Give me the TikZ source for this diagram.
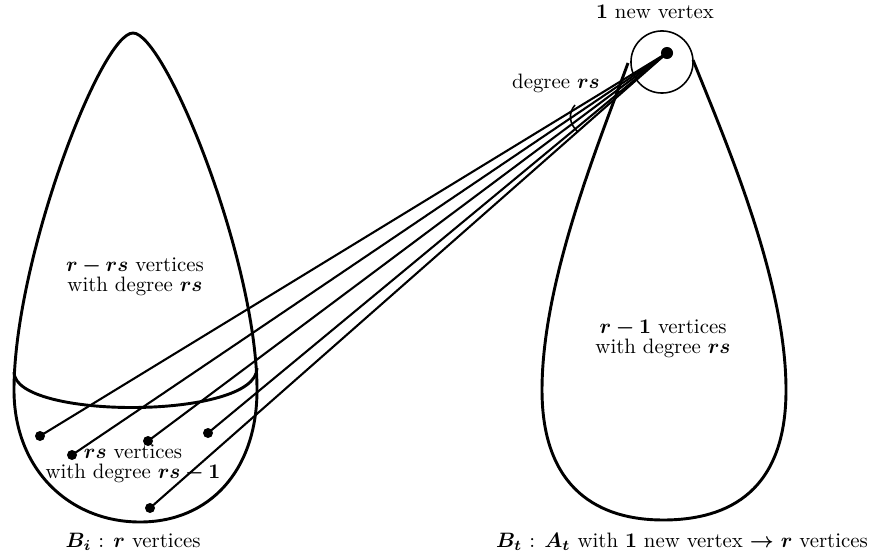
\documentclass[tikz,border=0pt]{standalone}
\usepackage{amsmath,bm}
\begin{document}
\begin{tikzpicture}[x=0.48pt,y=-0.48pt,
  blob/.style={line width=1.4pt},
  edge/.style={line width=1pt},
  thinline/.style={line width=0.75pt},
  dot/.style={circle,fill=black,inner sep=0pt,minimum size=4.8pt},
  bigdot/.style={circle,fill=black,inner sep=0pt,minimum size=5.8pt},
  lbl/.style={align=center,font=\fontsize{10}{9.5}\selectfont,inner sep=0pt}]
\useasboundingbox (0,0) rectangle (871,560);
% left drop B_i
\draw[blob] (133,33) .. controls (165,33) and (257,260) .. (257,390)
  .. controls (257,470) and (210,522) .. (140,522)
  .. controls (70,522) and (14,470) .. (14,390)
  .. controls (14,260) and (101,33) .. (133,33) -- cycle;
\draw[blob] (14,372) .. controls (14,420) and (257,420) .. (257,368);
% right drop B_t
\draw[blob] (628,63) .. controls (600,140) and (542,280) .. (542,390)
  .. controls (542,490) and (600,520) .. (663,520)
  .. controls (730,520) and (786,490) .. (786,390)
  .. controls (786,280) and (725,140) .. (693,60);
\node[circle,draw,thinline,minimum size=29.8pt,inner sep=0pt] (nc) at (662,62) {};
% vertices
\node[bigdot] (v) at (667,53) {};
\node[dot] (a1) at (40,436) {};
\node[dot] (a2) at (72,455) {};
\node[dot] (a3) at (148,441) {};
\node[dot] (a4) at (208,433) {};
\node[dot] (a5) at (150,508) {};
\foreach \a in {a1,a2,a3,a4,a5} \draw[edge] (\a.center) -- (v.center);
% degree mark
\draw[thinline] (575,105) .. controls (568,113) and (569,124) .. (578,132);
% labels
\node[lbl] (t1) at (655,12) {$\bm{1}$ new vertex};
\node[lbl] (tdeg) at (556,83) {degree $\bm{rs}$};
\node[lbl] (tl) at (135,277) {$\bm{r-rs}$ vertices\\with degree $\bm{rs}$};
\node[lbl] (tb) at (133,464) {$\bm{rs}$ vertices\\with degree $\bm{rs-1}$};
\node[lbl] (tr) at (663,339) {$\bm{r-1}$ vertices\\with degree $\bm{rs}$};
\node[lbl] (cap1) at (133,542) {$\bm{B_i}$ : $\bm{r}$ vertices};
\node[lbl] (cap2) at (682,542) {$\bm{B_t}$ : $\bm{A_t}$ with $\bm{1}$ new vertex $\bm{\rightarrow}$ $\bm{r}$ vertices};
\end{tikzpicture}
\end{document}
